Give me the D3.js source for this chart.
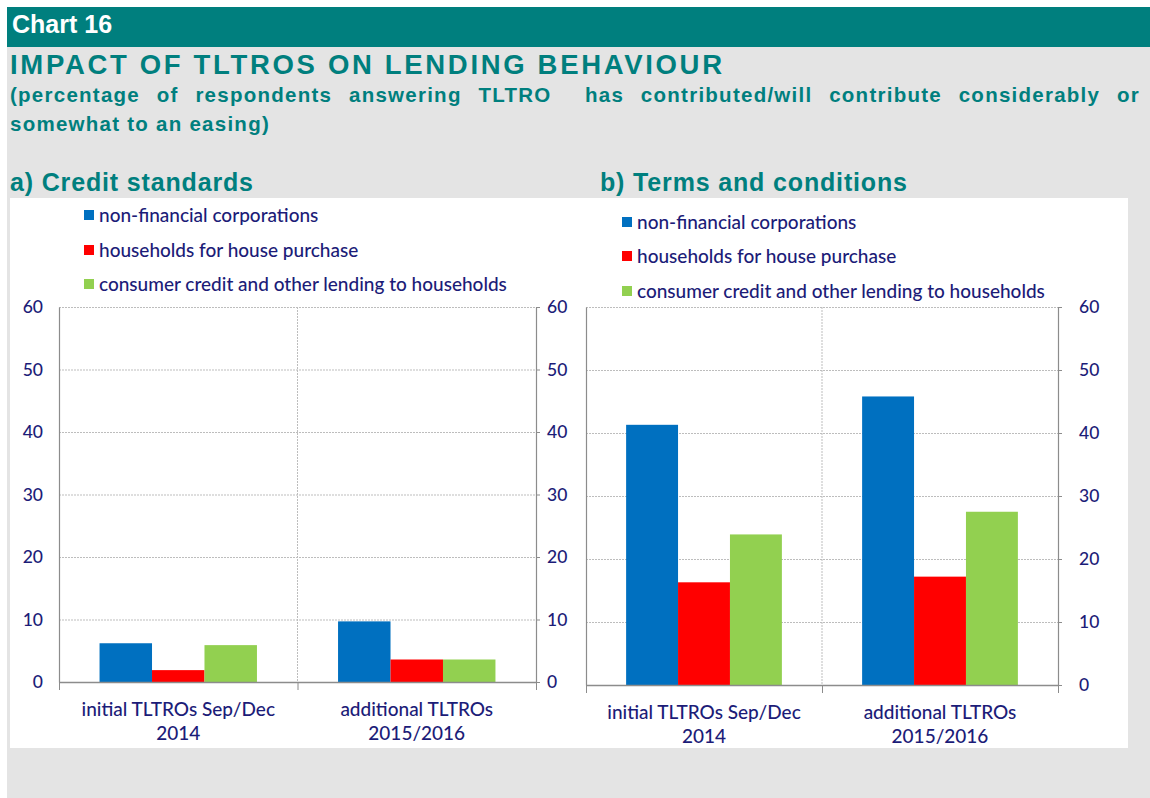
<!DOCTYPE html>
<html>
<head>
<meta charset="utf-8">
<script src="https://cdn.jsdelivr.net/npm/d3@7"></script>
<style>
  body { margin: 0; background: #ffffff; }
  svg { display: block; }
</style>
</head>
<body>
<svg id="chart" width="1150" height="798"></svg>
<script>
// ---------- data ----------
const categoryLines = [["initial TLTROs Sep/Dec", "2014"], ["additional TLTROs", "2015/2016"]];
const categories = ["initial", "additional"];
const seriesNames = ["non-financial corporations", "households for house purchase", "consumer credit and other lending to households"];
const seriesColors = ["#0070c0", "#ff0000", "#92d050"];
const yTicks = [0, 10, 20, 30, 40, 50, 60];

// panel a) credit standards
const creditNFC = [6.2, 9.7];
const creditHouse = [1.9, 3.6];
const creditConsumer = [5.9, 3.6];
// panel b) terms and conditions
const termsNFC = [41.3, 45.8];
const termsHouse = [16.3, 17.2];
const termsConsumer = [23.9, 27.5];

const chartTitle = "Chart 16";
const mainTitle = "IMPACT OF TLTROS ON LENDING BEHAVIOUR";
const subtitle1 = "(percentage of respondents answering TLTRO  has contributed/will contribute considerably or";
const subtitle2 = "somewhat to an easing)";
const panelTitles = ["a) Credit standards", "b) Terms and conditions"];

// ---------- styles ----------
const TEAL = "#007f7e";
const NAVY = "#1c1c78";
const GRAY_BG = "#e4e4e4";
const LABEL_FONT = "Lato, 'Open Sans', sans-serif";
const HEAD_FONT = "'Liberation Sans', Arial, sans-serif";

const svg = d3.select("#chart");

// backgrounds
svg.append("rect").attr("x", 0).attr("y", 0).attr("width", 1150).attr("height", 798).attr("fill", "#ffffff");
svg.append("rect").attr("x", 7).attr("y", 7).attr("width", 1143).attr("height", 791).attr("fill", GRAY_BG);
svg.append("rect").attr("x", 7).attr("y", 7).attr("width", 1143).attr("height", 40).attr("fill", TEAL);
svg.append("rect").attr("x", 10).attr("y", 198).attr("width", 1118).attr("height", 550).attr("fill", "#ffffff");

// header texts
function headText(txt, x, y, size, color, len) {
  const t = svg.append("text").attr("x", x).attr("y", y)
    .attr("font-family", HEAD_FONT).attr("font-weight", "bold")
    .attr("font-size", size).attr("fill", color).attr("xml:space", "preserve")
    .text(txt);
  if (len) t.attr("textLength", len).attr("lengthAdjust", "spacing");
  return t;
}
headText(chartTitle, 12, 33, 25, "#ffffff");
headText(mainTitle, 10, 74, 27.5, TEAL, 712);

// subtitle: letter spacing derived from the second line, first line justified with word spacing
const sub2 = headText(subtitle2, 10, 131, 20.5, TEAL);
const ls = Math.max(0, (260 - sub2.node().getComputedTextLength()) / subtitle2.length);
sub2.attr("letter-spacing", ls);
const sub1 = headText(subtitle1, 10, 102, 20.5, TEAL).attr("letter-spacing", ls);
{
  const natural = sub1.node().getComputedTextLength();
  const spaces = (subtitle1.match(/ /g) || []).length;
  sub1.attr("word-spacing", Math.max(0, (1130 - natural) / spaces));
}
headText(panelTitles[0], 10, 191, 25, TEAL, 243);
headText(panelTitles[1], 600, 191, 25, TEAL, 307);

// ---------- panel drawing ----------
function drawPanel(cfg) {
  const g = svg.append("g");
  const x0 = d3.scaleBand().domain(categories).range([cfg.left, cfg.right])
    .paddingInner(0.34).paddingOuter(0.17);
  const x1 = d3.scaleBand().domain(d3.range(seriesNames.length)).range([0, x0.bandwidth()]).padding(0);
  const y = d3.scaleLinear().domain([0, 60]).range([cfg.bottom, cfg.top]);
  const w = cfg.right - cfg.left;

  // horizontal dotted gridlines
  const grid = g.append("g").attr("transform", `translate(${cfg.left},0)`)
    .call(d3.axisRight(y).tickValues(yTicks.filter(v => v > 0)).tickSize(w).tickFormat(""));
  grid.select(".domain").remove();
  grid.selectAll("line").attr("stroke", "#bdbdbd").attr("stroke-width", 1).attr("stroke-dasharray", "2,1");

  // vertical dotted category separator
  const mid = (cfg.left + cfg.right) / 2;
  g.append("line").attr("x1", mid).attr("x2", mid).attr("y1", cfg.top).attr("y2", cfg.bottom)
    .attr("stroke", "#bdbdbd").attr("stroke-dasharray", "2,1");

  // bars
  const series = cfg.series;
  categories.forEach((c, ci) => {
    series.forEach((vals, si) => {
      g.append("rect")
        .attr("x", x0(c) + x1(si))
        .attr("y", y(vals[ci]))
        .attr("width", x1.bandwidth())
        .attr("height", y(0) - y(vals[ci]))
        .attr("fill", seriesColors[si]);
    });
  });

  // axes
  const axisColor = "#8c8c8c";
  const yl = g.append("g").attr("transform", `translate(${cfg.left},0)`)
    .call(d3.axisLeft(y).tickValues(yTicks).tickSize(0).tickPadding(cfg.padL).tickSizeOuter(0));
  const yr = g.append("g").attr("transform", `translate(${cfg.right},0)`)
    .call(d3.axisRight(y).tickValues(yTicks).tickSize(4).tickPadding(cfg.padR).tickSizeOuter(0));
  [yl, yr].forEach(a => {
    a.select(".domain").attr("stroke", axisColor).attr("stroke-width", 1.2);
    a.selectAll("line").attr("stroke", axisColor);
    a.selectAll("text").attr("font-family", LABEL_FONT).attr("font-size", 17.5)
      .attr("fill", NAVY).attr("font-weight", 500);
  });
  if (!cfg.showLeftLabels) yl.selectAll("text").remove();

  // bottom axis with ticks at category boundaries
  const xb = d3.scaleLinear().domain([0, categories.length]).range([cfg.left, cfg.right]);
  const xa = g.append("g").attr("transform", `translate(0,${cfg.bottom})`)
    .call(d3.axisBottom(xb).tickValues(d3.range(categories.length + 1)).tickSize(8).tickFormat("").tickSizeOuter(0));
  xa.select(".domain").attr("stroke", axisColor).attr("stroke-width", 1.5);
  xa.selectAll("line").attr("stroke", axisColor);

  // category labels
  categories.forEach((c, ci) => {
    const cx = x0(c) + x0.bandwidth() / 2;
    categoryLines[ci].forEach((ln, li) => {
      g.append("text").attr("x", cx).attr("y", cfg.bottom + 34 + li * 24)
        .attr("text-anchor", "middle").attr("font-family", LABEL_FONT)
        .attr("font-size", 19).attr("fill", NAVY).attr("font-weight", 500).text(ln);
    });
  });

  // legend
  seriesNames.forEach((name, si) => {
    const cy = cfg.legendY[si];
    g.append("rect").attr("x", cfg.legendX).attr("y", cy - 5).attr("width", 10).attr("height", 10)
      .attr("fill", seriesColors[si]);
    g.append("text").attr("x", cfg.legendX + 15).attr("y", cy).attr("dy", "0.35em")
      .attr("font-family", LABEL_FONT).attr("font-size", 19).attr("font-weight", 500)
      .attr("fill", NAVY).text(name);
  });
}

drawPanel({
  left: 59, right: 536, top: 307, bottom: 682, padL: 16, padR: 7, showLeftLabels: true,
  series: [creditNFC, creditHouse, creditConsumer],
  legendX: 84, legendY: [215, 250, 284]
});
drawPanel({
  left: 586, right: 1058, top: 307, bottom: 685, padL: 16, padR: 17, showLeftLabels: false,
  series: [termsNFC, termsHouse, termsConsumer],
  legendX: 622, legendY: [222, 256, 291]
});
</script>
</body>
</html>
